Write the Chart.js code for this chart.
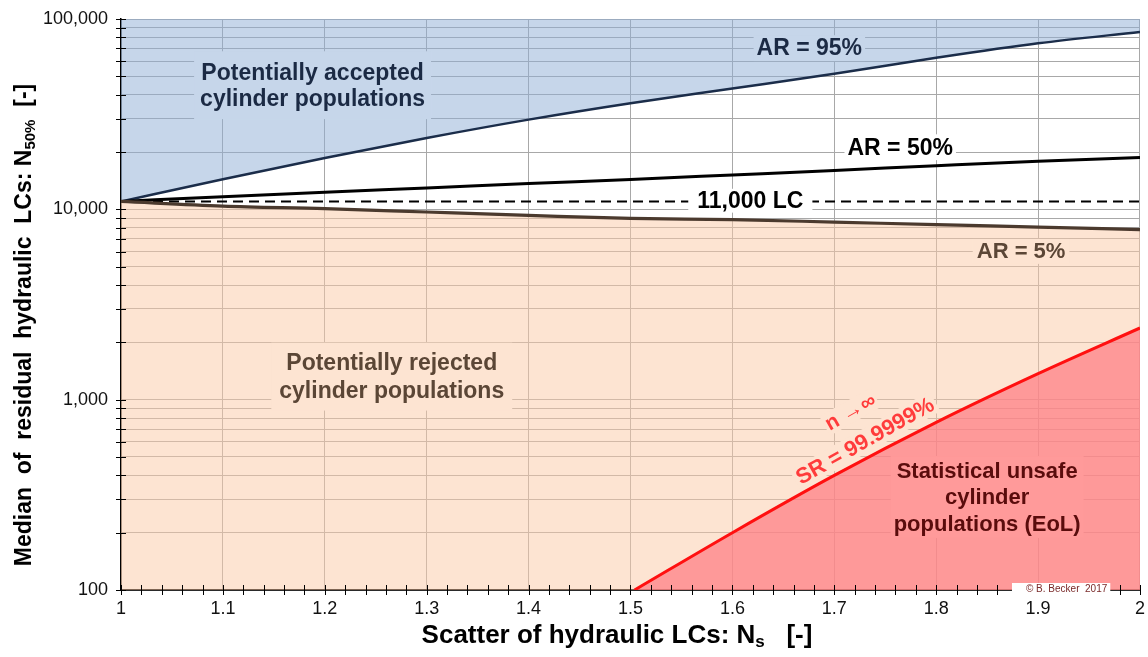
<!DOCTYPE html>
<html>
<head>
<meta charset="utf-8">
<script src="https://cdn.jsdelivr.net/npm/chart.js@4.4.0/dist/chart.umd.min.js"></script>
<style>
html,body{margin:0;padding:0;background:#fff;}
#wrap{width:1148px;height:657px;position:relative;}
canvas{display:block;}
</style>
</head>
<body>
<div id="wrap"><canvas id="c" width="1148" height="657"></canvas></div>
<script>
// ---------- data ----------
const nsValues   = [1.0, 1.1, 1.2, 1.3, 1.4, 1.5, 1.6, 1.7, 1.8, 1.9, 2.0];
const ar95Values = [11000, 14400, 18600, 23700, 29600, 36100, 43100, 51500, 62500, 74500, 85500];
const ar50Values = [11000, 11650, 12300, 12950, 13650, 14350, 15150, 16000, 16950, 17900, 18700];
const ar5Values  = [11000, 10400, 10080, 9680, 9300, 8960, 8830, 8570, 8310, 8070, 7830];
const lcNs       = [1.0, 2.0];
const lcValues   = [11000, 11000];
const srNs       = [1.504, 1.6, 1.7, 1.8, 1.9, 2.0];
const srValues   = [100, 200, 400, 760, 1370, 2380];

const xTickValues = [1.0, 1.1, 1.2, 1.3, 1.4, 1.5, 1.6, 1.7, 1.8, 1.9, 2.0];
const xTickLabels = ['1', '1.1', '1.2', '1.3', '1.4', '1.5', '1.6', '1.7', '1.8', '1.9', '2'];
const yTickValues = [100,200,300,400,500,600,700,800,900,
                     1000,2000,3000,4000,5000,6000,7000,8000,9000,
                     10000,20000,30000,40000,50000,60000,70000,80000,90000,100000];
const yMajorValues = [100, 1000, 10000, 100000];
const yMajorLabels = ['100', '1,000', '10,000', '100,000'];

// ---------- styling ----------
const FONT = "'Liberation Sans', Arial, Helvetica, sans-serif";
const BLUE_BOX = '#c6d6ea', PEACH_BOX = '#fde4d2', RED_BOX = '#ff9a9a';

const pts = (xs, ys) => xs.map((v, i) => ({x: v, y: ys[i]}));

// text annotations anchored in data coordinates
const annotations = [
  {lines:['Potentially accepted','cylinder populations'], ns:1.188, n:44900, size:23, lh:26, color:'#1b2a44', box:BLUE_BOX, padX:6, padY:10},
  {lines:['AR = 95%'], ns:1.6755, n:70300, size:23, color:'#1b2a44', box:BLUE_BOX, padX:3, padY:2},
  {lines:['AR = 50%'], ns:1.7647, n:21200, size:23, color:'#000', box:'#ffffff', padX:3, padY:2},
  {lines:['11,000 LC'], ns:1.6176, n:11100, size:23, color:'#000', box:'#ffffff', padX:9, padY:1},
  {lines:['AR = 5%'], ns:1.8833, n:6010, size:22, color:'#5b4636', box:PEACH_BOX, padX:4, padY:2},
  {lines:['Potentially rejected','cylinder populations'], ns:1.2657, n:1321, size:23, lh:28, color:'#5b4636', box:PEACH_BOX, padX:8, padY:9},
  {lines:['n \u2192\u221E'], ns:1.7157, n:865, size:21, color:'#ff3b3b', box:PEACH_BOX, padX:2, padY:1, rotate:-29.5},
  {lines:['SR = 99.9999%'], ns:1.730, n:608, size:22, color:'#ff3b3b', box:PEACH_BOX, padX:3, padY:1, rotate:-29.5},
  {lines:['Statistical unsafe','cylinder','populations (EoL)'], ns:1.85, n:308, size:22, lh:26.5, color:'#5a0c0c', box:RED_BOX, padX:3, padY:4}
];

function drawRich(ctx, parts, cx, cy, rot) {
  ctx.save();
  ctx.translate(cx, cy);
  if (rot) ctx.rotate(rot);
  ctx.textBaseline = 'alphabetic';
  ctx.textAlign = 'left';
  let total = 0;
  parts.forEach(p => { ctx.font = `bold ${p.size}px ${FONT}`; p.w = ctx.measureText(p.t).width; total += p.w; });
  let xx = -total / 2;
  parts.forEach(p => {
    ctx.font = `bold ${p.size}px ${FONT}`;
    ctx.fillStyle = '#000';
    ctx.fillText(p.t, xx, 8 + (p.dy || 0));
    xx += p.w;
  });
  ctx.restore();
}

const decor = {
  id: 'decor',
  afterDatasetsDraw(chart) {
    const {ctx} = chart;
    const xs = chart.scales.x, ys = chart.scales.y;
    for (const a of annotations) {
      const cx = xs.getPixelForValue(a.ns), cy = ys.getPixelForValue(a.n);
      ctx.save();
      ctx.translate(cx, cy);
      if (a.rotate) ctx.rotate(a.rotate * Math.PI / 180);
      ctx.font = `bold ${a.size}px ${FONT}`;
      const lh = a.lh || a.size;
      const w = Math.max(...a.lines.map(l => ctx.measureText(l).width)) + 2 * a.padX;
      const h = lh * (a.lines.length - 1) + a.size * 0.95 + 2 * a.padY;
      ctx.fillStyle = a.box;
      ctx.fillRect(-w / 2, -h / 2, w, h);
      ctx.fillStyle = a.color;
      ctx.textAlign = 'center';
      ctx.textBaseline = 'middle';
      a.lines.forEach((l, i) => ctx.fillText(l, 0, (i - (a.lines.length - 1) / 2) * lh + 1));
      ctx.restore();
    }
  },
  afterDraw(chart) {
    const {ctx, chartArea} = chart;
    const xs = chart.scales.x, ys = chart.scales.y;
    ctx.save();
    ctx.strokeStyle = '#000';
    ctx.lineWidth = 1;
    // y ticks crossing the axis
    yTickValues.forEach(v => {
      const py = Math.round(ys.getPixelForValue(v)) + 0.5;
      ctx.beginPath(); ctx.moveTo(chartArea.left - 5, py); ctx.lineTo(chartArea.left + 5, py); ctx.stroke();
    });
    // x ticks every 0.02 crossing the axis
    for (let i = 0; i <= 50; i++) {
      const px = Math.round(xs.getPixelForValue(1 + i * 0.02)) + 0.5;
      ctx.beginPath(); ctx.moveTo(px, chartArea.bottom - 5); ctx.lineTo(px, chartArea.bottom + 5); ctx.stroke();
    }
    // copyright box
    const cpx = xs.getPixelForValue(1.928), cpy = chartArea.bottom - 1;
    ctx.font = `10px ${FONT}`;
    const t = '\u00A9 B. Becker  2017';
    const tw = ctx.measureText(t).width;
    ctx.fillStyle = '#ffffff';
    ctx.fillRect(cpx - tw / 2 - 14, cpy - 6, tw + 17, 12);
    ctx.fillStyle = '#7a2a2a';
    ctx.textAlign = 'center'; ctx.textBaseline = 'middle';
    ctx.fillText(t, cpx, cpy);
    ctx.restore();
    // axis titles
    drawRich(ctx, [
      {t:'Median  of  residual  hydraulic  LCs: N', size:23},
      {t:'50%', size:15, dy:4},
      {t:'  [-]', size:23}
    ], 23, 325, -Math.PI / 2);
    drawRich(ctx, [
      {t:'Scatter of hydraulic LCs: N', size:26},
      {t:'s', size:17, dy:4},
      {t:'   [-]', size:26}
    ], 617, 635, 0);
  }
};

const lineBase = {showLine: true, pointRadius: 0, pointHoverRadius: 0, tension: 0.35, cubicInterpolationMode: 'monotone'};

new Chart(document.getElementById('c'), {
  type: 'scatter',
  data: {
    datasets: [
      Object.assign({}, lineBase, {label:'SR = 99.9999%', data: pts(srNs, srValues), borderColor:'#ff1010', borderWidth:3, fill:'start', backgroundColor:'rgba(255,121,129,0.7)'}),
      Object.assign({}, lineBase, {label:'AR = 5%', data: pts(nsValues, ar5Values), borderColor:'#4b3a2e', borderWidth:3.2, fill:'start', backgroundColor:'rgba(251,201,165,0.5)'}),
      Object.assign({}, lineBase, {label:'11,000 LC', data: pts(lcNs, lcValues), borderColor:'#000', borderWidth:2, borderDash:[10,6], fill:false}),
      Object.assign({}, lineBase, {label:'AR = 50%', data: pts(nsValues, ar50Values), borderColor:'#000', borderWidth:3, fill:false}),
      Object.assign({}, lineBase, {label:'AR = 95%', data: pts(nsValues, ar95Values), borderColor:'#1b2d4a', borderWidth:2.5, fill:'end', backgroundColor:'rgba(141,173,213,0.5)'})
    ]
  },
  options: {
    responsive: false,
    animation: false,
    devicePixelRatio: 1,
    layout: {padding: {left: 0, top: 19, right: 7, bottom: 0}},
    plugins: {legend: {display: false}, tooltip: {enabled: false}, title: {display: false}},
    scales: {
      x: {
        type: 'linear', min: 1, max: 2,
        afterBuildTicks: s => { s.ticks = xTickValues.map(v => ({value: v})); },
        afterFit: s => { s.height = 67; },
        ticks: {callback: (v, i) => xTickLabels[i], autoSkip: false, maxRotation: 0, color: '#111', padding: 3, font: {family: FONT, size: 18}},
        grid: {color: '#a8a8a8', lineWidth: 1, drawTicks: true, tickLength: 5, tickColor: 'rgba(0,0,0,0)'},
        border: {color: '#000', width: 1.8}
      },
      y: {
        type: 'logarithmic', min: 100, max: 100000,
        afterBuildTicks: s => { s.ticks = yTickValues.map(v => ({value: v})); },
        afterFit: s => { s.width = 121; },
        ticks: {callback: v => { const k = yMajorValues.indexOf(v); return k >= 0 ? yMajorLabels[k] : ''; }, autoSkip: false, color: '#111', padding: 8, font: {family: FONT, size: 18}},
        grid: {color: '#a8a8a8', lineWidth: 1, drawTicks: true, tickLength: 5, tickColor: 'rgba(0,0,0,0)'},
        border: {color: '#000', width: 1.5}
      }
    }
  },
  plugins: [decor]
});
</script>
</body>
</html>
